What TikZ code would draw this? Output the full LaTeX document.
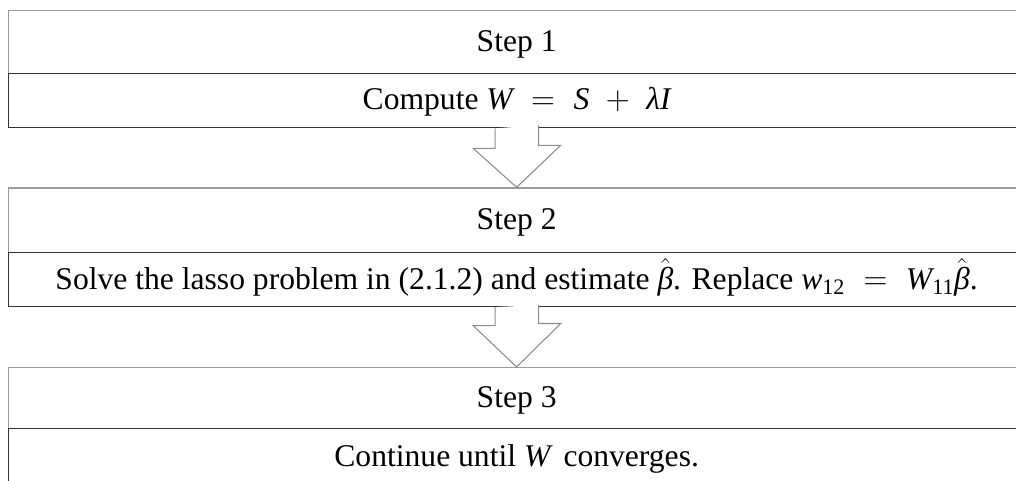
\documentclass[tikz,border=0pt]{standalone}
\usepackage{amsmath}
\usepackage{fontspec}
\setmainfont{Liberation Serif}
\usetikzlibrary{calc}
\definecolor{hdrgray}{HTML}{9A9A9A}
\definecolor{rowdark}{HTML}{333333}
\definecolor{arrgray}{HTML}{8C8C8C}
\newcommand{\mv}[1]{\mbox{\itshape #1}}
\tikzset{
  stephead/.style={draw=hdrgray, line width=1pt, fill=white, minimum width=1016*0.75pt, inner sep=0pt, anchor=north west},
  steprow/.style={draw=rowdark, line width=1pt, fill=white, minimum width=1016*0.75pt, inner sep=0pt, anchor=north west},
  lbl/.style={font=\fontsize{23.7}{28}\selectfont, inner sep=0pt, anchor=base},
  flowarrow/.style={draw=arrgray, line width=0.8pt, fill=white, line join=miter}
}
\begin{document}
\begin{tikzpicture}[x=0.75pt,y=-0.75pt]
\useasboundingbox (0,0) rectangle (1016,481);
\clip (0,0) rectangle (1016,481);
% Step 1
\node[stephead, minimum height=63*0.75pt] (s1) at (8,10) {};
\node[steprow, minimum height=54*0.75pt] (r1) at (8,73) {};
% Step 2
\node[stephead, minimum height=64.5*0.75pt] (s2) at (8,187.3) {};
\node[steprow, minimum height=54*0.75pt] (r2) at (8,251.8) {};
% Step 3
\node[stephead, minimum height=61*0.75pt] (s3) at (8,367) {};
\node[steprow, minimum height=56*0.75pt] (r3) at (8,428) {};
% texts
\node[lbl] (t1) at ($(s1.south)+(0,-23)$) {Step 1};
\node[lbl] (u1) at ($(r1.north)+(0,37)$) {Compute $\mv{W} \;=\; \mv{S} \;+\; \mv{λI}$};
\node[lbl] (t2) at ($(s2.south)+(0,-24)$) {Step 2};
\node[lbl] (u2) at ($(r2.north)+(0,37.5)$) {Solve the lasso problem in (2.1.2) and estimate $\hat{\mv{β}}$. Replace $\mv{w}_{\text{12}} \;=\; \mv{W}_{\text{11}}\hat{\mv{β}}$.};
\node[lbl] (t3) at ($(s3.south)+(0,-22)$) {Step 3};
\node[lbl] (u3) at ($(r3.north)+(0,38.5)$) {Continue until $\mv{W}$\, converges.};
% arrows
\draw[flowarrow] ($(r1.south)+(-21.5,0)$) -- ++(0,20) -- ++(-22,0) -- (s2.north) -- ++(44,-42) -- ++(-22,0) -- ++(0,-20);
\draw[flowarrow] ($(r2.south)+(-21.5,0)$) -- ++(0,18.5) -- ++(-22,0) -- (s3.north) -- ++(44,-43.5) -- ++(-22,0) -- ++(0,-18.5);
\end{tikzpicture}
\end{document}
